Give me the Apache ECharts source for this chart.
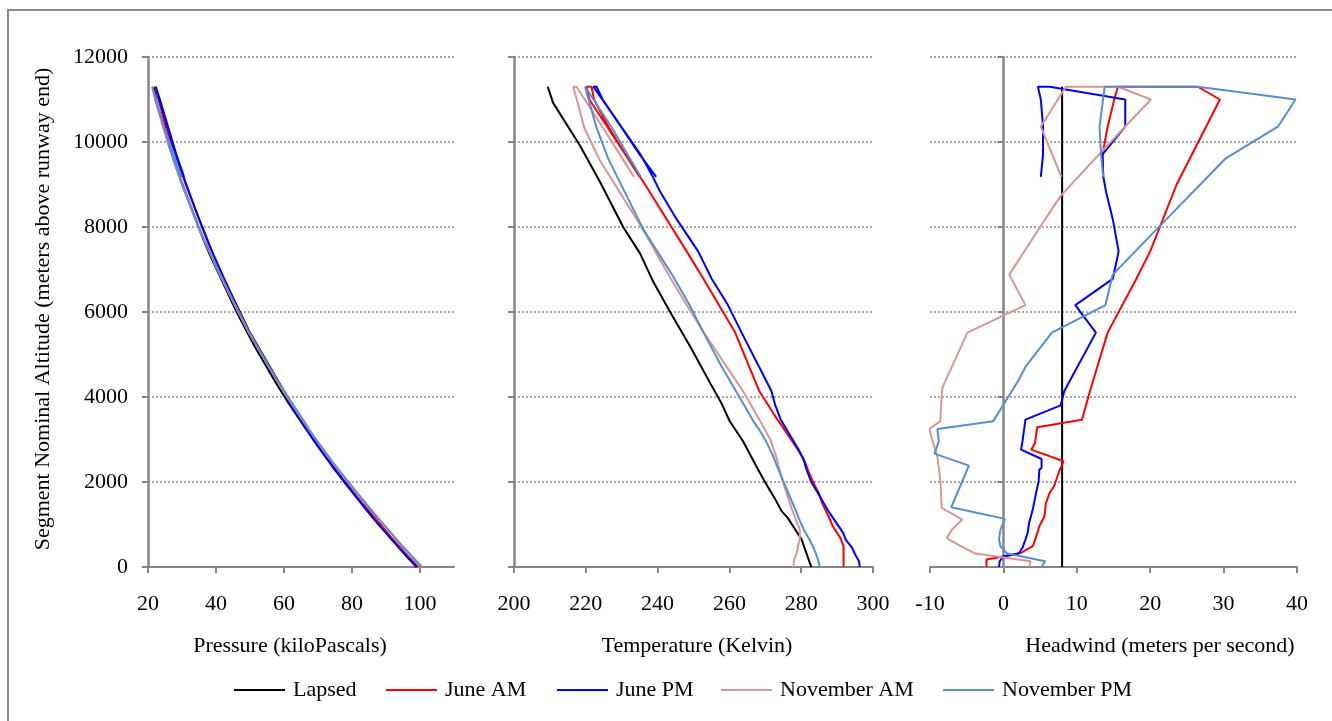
<!DOCTYPE html>
<html>
<head>
<meta charset="utf-8">
<script src="https://cdn.jsdelivr.net/npm/echarts@6/dist/echarts.min.js"></script>
<style>
  html, body { margin: 0; padding: 0; background: #fff; }
  #chart { width: 1332px; height: 721px; }
</style>
</head>
<body>
<div id="chart"></div>
<script>
// altitude (m) with pressure (kPa), temperature (K) and headwind (m/s) for each profile
var lapAlt  = [0, 650, 900, 1150, 1320, 1620, 2000, 2370, 2960, 3430, 3850, 4350, 5200, 6010, 6710, 7380, 8000, 9070, 9910, 10920, 11300]
var lapPres = [99.0, 91.7, 89.0, 86.2, 84.5, 81.5, 77.7, 74.2, 68.9, 64.9, 61.4, 57.5, 51.3, 46.0, 41.9, 38.0, 34.8, 29.7, 26.2, 22.5, 21.8]
var lapTemp = [282.8, 280.1, 278.2, 276.3, 274.5, 272.6, 269.9, 267.5, 263.8, 260.1, 257.8, 254.5, 249.0, 243.4, 238.8, 235.1, 230.4, 223.9, 218.4, 210.9, 209.4]
var lapWind = [8, 8, 8, 8, 8, 8, 8, 8, 8, 8, 8, 8, 8, 8, 8, 8, 8, 8, 8, 8, 8]

var amAlt  = [0, 176, 270, 333, 489, 686, 959, 1194, 1508, 1743, 1899, 2252, 2487, 2761, 2918, 3286, 3466, 4143, 5515, 6778, 7426, 9000, 11000, 11300, 11300, 11000, 10360, 9710, 9180]
var amPres = [99.5, 97.4, 96.3, 95.6, 93.9, 91.7, 88.8, 86.3, 83.0, 80.6, 79.1, 75.6, 73.5, 71.1, 69.7, 66.5, 65.0, 60.0, 50.0, 42.4, 38.8, 31.1, 23.1, 22.1, 22.1, 23.1, 25.2, 27.7, 30.0]
var amTemp = [291.8, 291.8, 291.8, 291.8, 291.8, 290.9, 288.8, 287.6, 285.8, 284.9, 283.9, 282.0, 281.0, 279.1, 277.8, 274.9, 273.4, 268.3, 261.6, 252.8, 248.1, 236.5, 221.0, 220.2, 221.6, 222.3, 226.3, 231.0, 235.0]
var amWind = [-2.3, -2.3, 0.8, 2.4, 4.0, 4.4, 4.9, 5.6, 5.8, 6.3, 6.9, 7.6, 8.2, 3.8, 4.3, 4.6, 10.7, 11.8, 14.2, 18.1, 20.0, 23.6, 29.5, 26.5, 15.6, 15.1, 14.2, 13.5, 13.6]

var pmAlt  = [0, 136, 254, 317, 451, 646, 803, 1038, 1351, 1704, 2017, 2291, 2331, 2542, 2761, 2957, 3466, 3802, 4143, 5515, 6163, 6778, 7426, 8184, 8816, 9195, 9710, 10360, 11000, 11300, 11300, 11000, 10360, 9710, 9180]
var pmPres = [99.0, 97.4, 96.0, 95.3, 93.8, 91.7, 90.0, 87.4, 84.2, 80.7, 77.7, 75.0, 74.6, 72.7, 70.7, 69.0, 64.8, 62.1, 59.9, 49.9, 46.0, 42.4, 38.8, 35.0, 32.1, 30.4, 28.1, 25.7, 23.3, 22.3, 22.5, 23.5, 25.9, 28.3, 30.6]
var pmTemp = [296.3, 296.1, 295.3, 294.9, 294.2, 292.4, 291.7, 289.8, 287.3, 284.9, 282.7, 281.5, 281.4, 280.6, 279.3, 277.9, 274.3, 272.8, 271.7, 263.4, 259.6, 255.1, 251.3, 245.3, 240.8, 238.6, 235.2, 229.9, 224.7, 223.0, 222.1, 224.6, 229.8, 235.0, 239.6]
var pmWind = [-0.6, -0.5, 0.0, 2.1, 2.6, 3.0, 3.3, 3.5, 4.0, 4.4, 4.8, 4.9, 5.2, 5.2, 2.4, 2.6, 3.0, 7.8, 8.3, 12.6, 9.8, 14.9, 15.7, 14.9, 14.0, 13.6, 13.5, 16.6, 16.6, 6.3, 4.7, 5.1, 5.4, 5.4, 5.1]

var naAlt  = [0, 136, 317, 411, 489, 646, 685, 881, 998, 1116, 1391, 2056, 2604, 2996, 3247, 3427, 4054, 4227, 5515, 6163, 6880, 8000, 8732, 9570, 10330, 11000, 11300, 11300, 10360, 9180]
var naPres = [100.6, 99.0, 96.9, 95.8, 94.9, 93.2, 92.7, 90.7, 89.4, 88.1, 85.2, 78.2, 72.9, 69.4, 67.2, 65.7, 60.5, 59.1, 49.6, 45.5, 41.1, 34.8, 31.3, 27.5, 24.5, 22.1, 21.2, 21.2, 24.4, 29.2]
var naTemp = [277.9, 277.9, 278.7, 279.0, 279.1, 279.6, 279.6, 279.6, 279.1, 278.5, 277.3, 274.7, 273.0, 271.4, 269.8, 268.6, 264.4, 263.1, 252.9, 248.1, 243.0, 235.5, 230.1, 223.9, 219.6, 217.5, 216.5, 217.4, 224.6, 233.4]
var naWind = [3.5, 3.7, -3.8, -4.9, -5.8, -7.4, -7.7, -7.0, -6.3, -5.6, -8.4, -8.6, -9.0, -9.7, -10.1, -8.6, -8.4, -8.3, -4.9, 3.0, 0.8, 5.0, 7.8, 12.3, 16.4, 20.1, 15.6, 8.5, 5.1, 7.9]

var npAlt  = [0, 136, 317, 489, 646, 881, 1132, 1406, 2386, 2667, 2957, 3247, 3427, 4406, 4707, 5515, 6163, 6880, 7932, 9616, 10360, 11000, 11300, 11300, 10360, 9710, 9180]
var npPres = [100.5, 98.9, 96.8, 94.8, 93.1, 90.6, 87.8, 84.9, 75.1, 72.5, 69.8, 67.3, 65.9, 57.9, 55.6, 49.8, 45.7, 41.3, 35.3, 27.4, 24.6, 22.2, 21.3, 21.3, 24.6, 27.6, 29.8]
var npTemp = [285.2, 284.8, 284.1, 283.2, 282.3, 280.7, 279.4, 278.1, 273.2, 271.9, 270.2, 268.2, 266.7, 260.0, 257.9, 252.8, 248.9, 244.0, 236.1, 226.2, 222.9, 220.8, 219.8, 220.2, 227.1, 231.6, 235.3]
var npWind = [5.2, 5.7, 0.5, -0.4, -0.6, -0.4, 0.2, -7.1, -4.7, -9.4, -8.8, -9.0, -1.4, 2.1, 3.0, 6.6, 13.9, 14.9, 20.8, 30.3, 37.4, 39.8, 26.5, 13.8, 13.1, 13.3, 13.6]

var profiles = [
  {name: 'Lapsed', color: '#000000', alt: lapAlt, pres: lapPres, temp: lapTemp, wind: lapWind},
  {name: 'June AM', color: '#ff0000', alt: amAlt, pres: amPres, temp: amTemp, wind: amWind},
  {name: 'June PM', color: '#0000ff', alt: pmAlt, pres: pmPres, temp: pmTemp, wind: pmWind},
  {name: 'November AM', color: '#d99694', alt: naAlt, pres: naPres, temp: naTemp, wind: naWind},
  {name: 'November PM', color: '#558ed5', alt: npAlt, pres: npPres, temp: npTemp, wind: npWind}
]

var font = 'Liberation Serif'
var textStyle = {fontFamily: font, fontSize: 22, color: '#000'}
var titleFont = '22px "Liberation Serif"'
var gray = '#868686'

function pairs(xs, ys) {
  return xs.map(function (x, i) { return [x, ys[i]] })
}

var series = []
profiles.forEach(function (p) {
  [p.pres, p.temp, p.wind].forEach(function (vals, k) {
    series.push({
      name: p.name,
      type: 'line',
      xAxisIndex: k,
      yAxisIndex: k,
      data: pairs(vals, p.alt),
      symbol: 'none',
      lineStyle: {color: p.color, width: 2},
      itemStyle: {color: p.color}
    })
  })
})

function xAxis(idx, min, max, interval) {
  return {
    type: 'value', gridIndex: idx, min: min, max: max, interval: interval,
    axisLine: {onZero: false, lineStyle: {color: gray, width: 2}},
    axisTick: {show: true, length: 6, lineStyle: {color: gray, width: 2}},
    axisLabel: Object.assign({margin: 26, showMaxLabel: idx !== 0}, textStyle),
    splitLine: {show: false}
  }
}
function yAxis(idx) {
  return {
    type: 'value', gridIndex: idx, min: 0, max: 12000, interval: 2000,
    axisLine: {show: true, onZero: idx === 2, lineStyle: {color: gray, width: 2.5}},
    axisTick: {show: true, length: 6, lineStyle: {color: gray, width: 2}},
    axisLabel: Object.assign({show: idx === 0, margin: 20, formatter: function (v) { return String(v) }}, textStyle),
    splitLine: {show: true, lineStyle: {color: '#8c8c8c', width: 1.5, type: [2, 2]}}
  }
}

function label(text, x, y, rotation) {
  return {
    type: 'text', x: x, y: y, rotation: rotation || 0,
    style: {text: text, font: titleFont, fill: '#000',
      align: 'center', verticalAlign: 'middle', textAlign: 'center', textVerticalAlign: 'middle'}
  }
}

var legendLeft = [234, 386, 557, 721, 943]

var option = {
  animation: false,
  backgroundColor: '#fff',
  grid: [
    {left: 148, top: 57, width: 306, height: 510},
    {left: 514, top: 57, width: 359, height: 510},
    {left: 930, top: 57, width: 367, height: 510}
  ],
  xAxis: [xAxis(0, 20, 110, 20), xAxis(1, 200, 300, 20), xAxis(2, -10, 40, 10)],
  yAxis: [yAxis(0), yAxis(1), yAxis(2)],
  legend: profiles.map(function (p, i) {
    return {
      data: [p.name], left: legendLeft[i], top: 679, icon: 'rect',
      itemWidth: 51, itemHeight: 2, padding: 0,
      textStyle: Object.assign({padding: [0, 0, 0, 3]}, textStyle)
    }
  }),
  graphic: [
    {type: 'rect', silent: true, shape: {x: 8, y: 10, width: 1400, height: 800},
      style: {fill: 'none', stroke: '#8a8a8a', lineWidth: 2}},
    label('Segment Nominal Altitude (meters above runway end)', 43, 309, Math.PI / 2),
    label('Pressure (kiloPascals)', 290, 646),
    label('Temperature (Kelvin)', 697, 646),
    label('Headwind (meters per second)', 1160, 646)
  ],
  series: series
}

var chart = echarts.init(document.getElementById('chart'))
chart.setOption(option)
</script>
</body>
</html>
